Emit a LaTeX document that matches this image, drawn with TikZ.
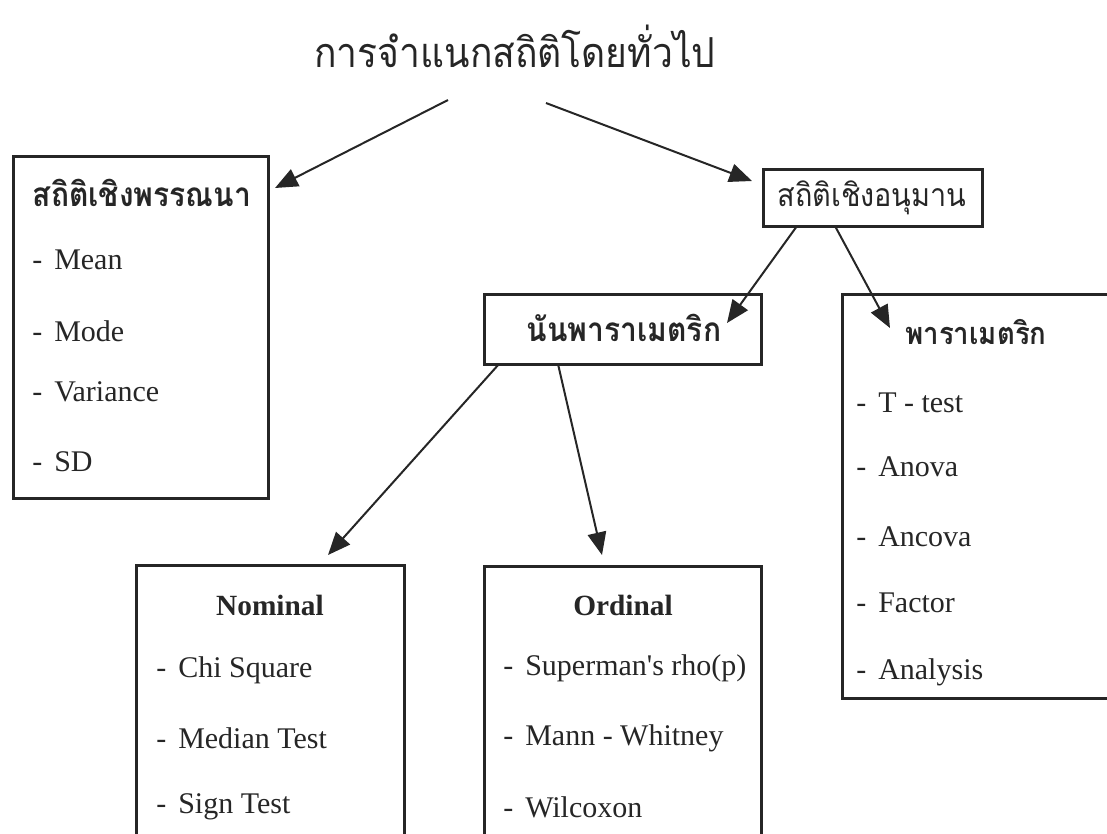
\documentclass[tikz,border=0pt]{standalone}
\usepackage{fontspec}
\setmainfont{Liberation Serif}
\newfontfamily\latinfont{Liberation Serif}
\newfontfamily\thaifont[Script=Thai,FakeStretch=0.9]{Loma}
\usetikzlibrary{arrows.meta}
\definecolor{ink}{HTML}{262626}
\begin{document}
\begin{tikzpicture}[x=0.75pt,y=-0.75pt,
  box/.style={draw=ink,line width=2.2pt,anchor=north west,inner sep=0pt},
  item/.style={anchor=west,inner sep=0pt,text=ink,font=\latinfont\fontsize{22.5}{26}\selectfont},
  ttl/.style={inner sep=0pt,text=ink,font=\latinfont\fontsize{22}{25}\selectfont\bfseries},
  thttl/.style={inner sep=0pt,text=ink,font=\thaifont\fontsize{25}{29}\selectfont\bfseries},
  conn/.style={draw=ink,line width=1.5pt,-{Triangle[length=17pt,width=14pt]}}]
\useasboundingbox (0,0) rectangle (1107,833);
\clip (0,0) rectangle (1107,833);
% title
\node[inner sep=0pt,text=ink,font=\thaifont\fontsize{31}{36}\selectfont] (title) at (515,46) {การจำแนกสถิติโดยทั่วไป};
% boxes
\node[box,minimum width=191.25pt,minimum height=256.5pt] (desc) at (12,155) {};
\node[box,minimum width=164.25pt,minimum height=42.75pt] (inf) at (762,168) {};
\node[box,minimum width=207.75pt,minimum height=52.5pt] (nonp) at (483,293) {};
\node[box,minimum width=216.75pt,minimum height=303pt] (par) at (841,293) {};
\node[box,minimum width=201pt,minimum height=222pt] (nom) at (135,564) {};
\node[box,minimum width=207.75pt,minimum height=222pt] (ord) at (483,565) {};
% box titles
\node[thttl] (descT) at (142,193) {สถิติเชิงพรรณนา};
\node[thttl,font=\thaifont\fontsize{24}{28}\selectfont] (infT) at (872,198) {สถิติเชิงอนุมาน};
\node[thttl] (nonpT) at (624,328) {นันพาราเมตริก};
\node[thttl,font=\thaifont\fontsize{23}{27}\selectfont\bfseries] (parT) at (976,332) {พาราเมตริก};
\node[ttl] (nomT) at (270,605) {Nominal};
\node[ttl] (ordT) at (623,605) {Ordinal};
% items
\node[item] (d1) at (32,260) {-\hspace{9pt}Mean};
\node[item] (d2) at (32,331) {-\hspace{9pt}Mode};
\node[item] (d3) at (32,392) {-\hspace{9pt}Variance};
\node[item] (d4) at (32,462) {-\hspace{9pt}SD};
\node[item] (p1) at (856,403) {-\hspace{9pt}T - test};
\node[item] (p2) at (856,467) {-\hspace{9pt}Anova};
\node[item] (p3) at (856,537) {-\hspace{9pt}Ancova};
\node[item] (p4) at (856,603) {-\hspace{9pt}Factor};
\node[item] (p5) at (856,672) {-\hspace{9pt}Analysis};
\node[item] (n1) at (156,670) {-\hspace{9pt}Chi Square};
\node[item] (n2) at (156,738) {-\hspace{9pt}Median Test};
\node[item] (n3) at (156,807) {-\hspace{9pt}Sign Test};
\node[item] (o1) at (503,668) {-\hspace{9pt}Superman's rho(p)};
\node[item] (o2) at (503,738) {-\hspace{9pt}Mann - Whitney};
\node[item] (o3) at (503,807) {-\hspace{9pt}Wilcoxon};
% connector ends
\coordinate (tL) at (448,100);
\coordinate (tR) at (546,103);
\coordinate (descIn) at (275,188);
\coordinate (infIn) at (752,181);
\coordinate (infL) at (797,226);
\coordinate (infR) at (835,226);
\coordinate (nonpIn) at (727,323);
\coordinate (parIn) at (890,328);
\coordinate (nonpL) at (499,364);
\coordinate (nonpR) at (558,364);
\coordinate (nomIn) at (328,555);
\coordinate (ordIn) at (602,555);
\draw[conn] (tL) -- (descIn);
\draw[conn] (tR) -- (infIn);
\draw[conn] (infL) -- (nonpIn);
\draw[conn] (infR) -- (parIn);
\draw[conn] (nonpL) -- (nomIn);
\draw[conn] (nonpR) -- (ordIn);
\end{tikzpicture}
\end{document}
